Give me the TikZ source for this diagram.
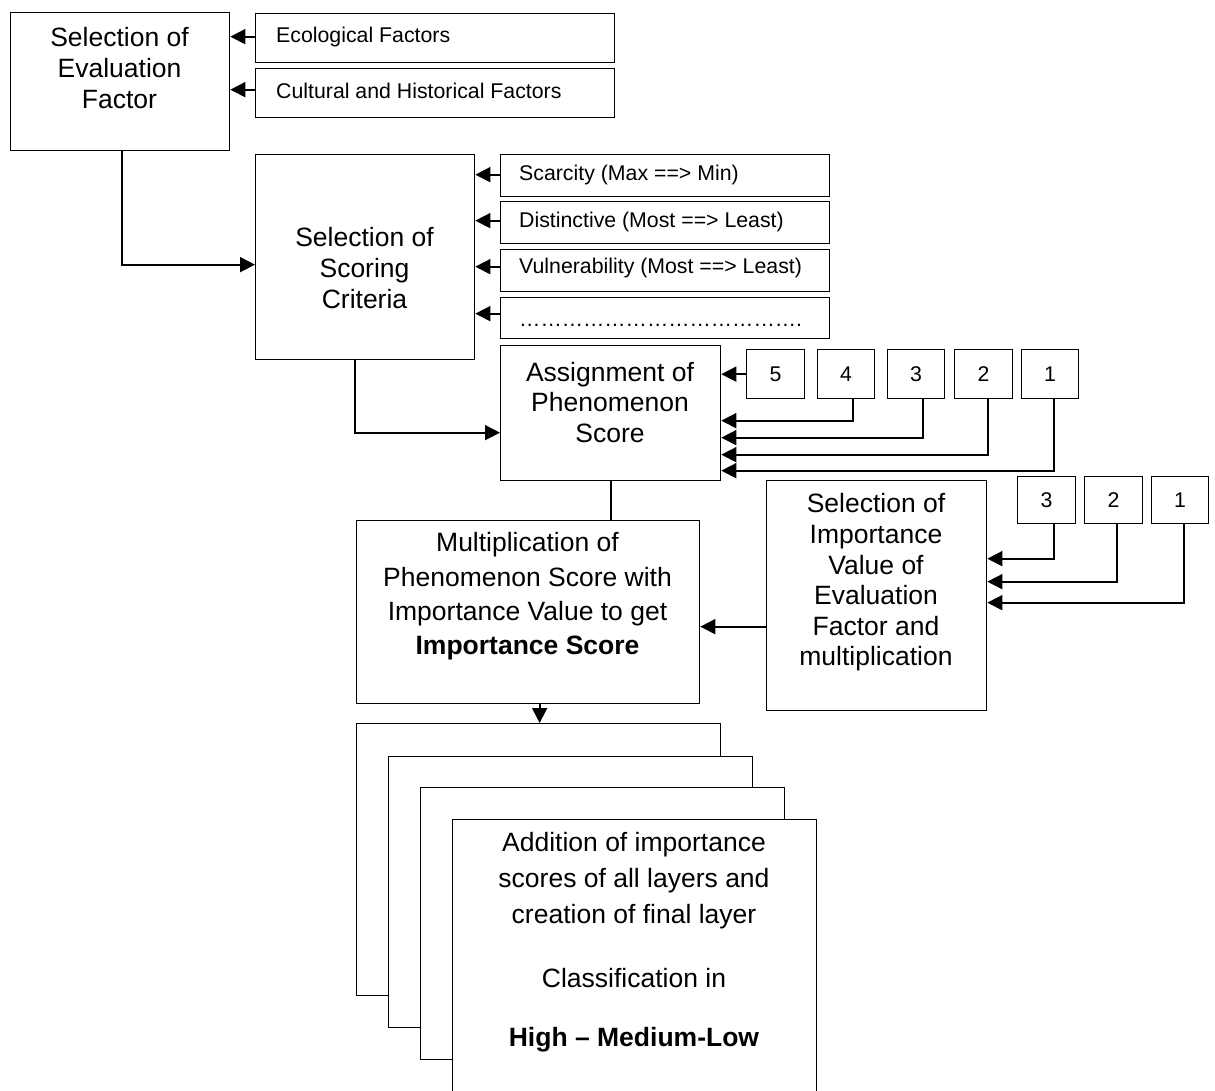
\documentclass[tikz,border=0pt]{standalone}
\usepackage{fontspec}
\setmainfont{Liberation Sans}
\usetikzlibrary{arrows.meta,calc}
\begin{document}
\begin{tikzpicture}[x=1pt,y=-1pt,
  box/.style={draw, line width=1.3pt, fill=white, inner sep=0pt, anchor=north west},
  big/.style={font=\fontsize{26.5}{30.6}\selectfont, align=center, inner sep=0pt},
  small/.style={font=\fontsize{21.3}{25}\selectfont, inner sep=0pt},
  numbox/.style={box, font=\fontsize{21.3}{25}\selectfont},
  conn/.style={line width=1.7pt, -{Triangle[length=15pt,width=15pt]}},
  plainline/.style={line width=1.7pt}]
\clip (0,0) rectangle (1215,1090);
% main boxes
\node[box, minimum width=219pt, minimum height=138pt] (A) at (10,12) {};
\node[box, minimum width=359pt, minimum height=49pt] (F1) at (255,13) {};
\node[box, minimum width=359pt, minimum height=49pt] (F2) at (255,68) {};
\node[box, minimum width=219pt, minimum height=205pt] (B) at (255,154) {};
\node[box, minimum width=329pt, minimum height=42pt] (c1) at (500,154) {};
\node[box, minimum width=329pt, minimum height=42pt] (c2) at (500,201) {};
\node[box, minimum width=329pt, minimum height=42pt] (c3) at (500,249) {};
\node[box, minimum width=329pt, minimum height=41pt] (c4) at (500,297) {};
\node[box, minimum width=220pt, minimum height=135pt] (C) at (500,345) {};
\node[numbox, minimum width=58pt, minimum height=49pt] (n5) at (746,349) {5};
\node[numbox, minimum width=57pt, minimum height=49pt] (n4) at (817,349) {4};
\node[numbox, minimum width=57pt, minimum height=49pt] (n3) at (887,349) {3};
\node[numbox, minimum width=58pt, minimum height=49pt] (n2) at (954,349) {2};
\node[numbox, minimum width=57pt, minimum height=49pt] (n1) at (1021,349) {1};
\node[box, minimum width=343pt, minimum height=183pt] (E) at (356,520) {};
\node[box, minimum width=220pt, minimum height=230pt] (D) at (766,480) {};
\node[numbox, minimum width=58pt, minimum height=47pt] (i3) at (1017,476) {3};
\node[numbox, minimum width=58pt, minimum height=47pt] (i2) at (1084,476) {2};
\node[numbox, minimum width=57pt, minimum height=47pt] (i1) at (1151,476) {1};
% stacked layers
\node[box, minimum width=364pt, minimum height=272pt] (R1) at (356,723) {};
\node[box, minimum width=364pt, minimum height=271pt] (R2) at (388,756) {};
\node[box, minimum width=364pt, minimum height=272pt] (R3) at (420,787) {};
\node[box, minimum width=364pt, minimum height=290pt] (R4) at (452,819) {};
% texts
\node[big] (At) at (119.5,68) {Selection of\\Evaluation\\Factor};
\node[big] (Bt) at (364.5,268) {Selection of\\Scoring\\Criteria};
\node[big] (Ct) at (610,402.5) {Assignment of\\Phenomenon\\Score};
\node[big, font=\fontsize{26.5}{34.3}\selectfont] (Et) at (527.5,596.5) {Multiplication of\\Phenomenon Score with\\Importance Value to get\\\textbf{Importance Score}};
\node[big] (Dt) at (876,582.5) {Selection of\\Importance\\Value of\\Evaluation\\Factor and\\multiplication};
\node[big, font=\fontsize{26.5}{36}\selectfont] (R4a) at (634,881) {Addition of importance\\scores of all layers and\\creation of final layer};
\node[big] (R4b) at (634,978) {Classification in};
\node[big] (R4c) at (634,1040) {\textbf{High – Medium-Low}};
\node[small, anchor=west] (F1t) at (276,37) {Ecological Factors};
\node[small, anchor=west] (F2t) at (276,91) {Cultural and Historical Factors};
\node[small, anchor=west] (c1t) at (519,175) {Scarcity (Max ==> Min)};
\node[small, anchor=west] (c2t) at (519,222) {Distinctive (Most ==> Least)};
\node[small, anchor=west] (c3t) at (519,268) {Vulnerability (Most ==> Least)};
\node[small, anchor=base west] (c4t) at (519,326) {………………………………….};
% connectors
\coordinate (f1o) at ([yshift=1.5pt]F1.west);
\coordinate (f2o) at ([yshift=3.5pt]F2.west);
\draw[conn] (f1o) -- (f1o -| A.east);
\draw[conn] (f2o) -- (f2o -| A.east);
\draw[conn] ([xshift=1.5pt]A.south) |- ([yshift=-7.5pt]B.west);
\coordinate (c1o) at ([yshift=1pt]c1.west);
\coordinate (c2o) at ([yshift=2pt]c2.west);
\coordinate (c3o) at ([yshift=4pt]c3.west);
\coordinate (c4o) at ([yshift=4.5pt]c4.west);
\draw[conn] (c1o) -- (c1o -| B.east);
\draw[conn] (c2o) -- (c2o -| B.east);
\draw[conn] (c3o) -- (c3o -| B.east);
\draw[conn] (c4o) -- (c4o -| B.east);
\draw[conn] ([xshift=-10.5pt]B.south) |- ([yshift=-19.5pt]C.west);
\draw[conn] (n5.west) -- (n5.west -| C.east);
\draw[conn] ([xshift=6.5pt]n4.south) |- ([yshift=-7.5pt]C.east);
\draw[conn] ([xshift=6.5pt]n3.south) |- ([yshift=-24.5pt]C.east);
\draw[conn] ([xshift=4pt]n2.south) |- ([yshift=-41.5pt]C.east);
\draw[conn] ([xshift=3.5pt]n1.south) |- ([yshift=-57.5pt]C.east);
\draw[conn] ([xshift=7pt]i3.south) |- ([yshift=37pt]D.east);
\draw[conn] ([xshift=3pt]i2.south) |- ([yshift=14pt]D.east);
\draw[conn] ([xshift=3.5pt]i1.south) |- ([yshift=-7pt]D.east);
\coordinate (de) at ([yshift=-31pt]D.west);
\draw[conn] (de) -- (de -| E.east);
\draw[plainline] (C.south) -- (C.south |- E.north);
\coordinate (er) at ([xshift=11.5pt]E.south);
\draw[conn] (er) -- (er |- R1.north);
\end{tikzpicture}
\end{document}
